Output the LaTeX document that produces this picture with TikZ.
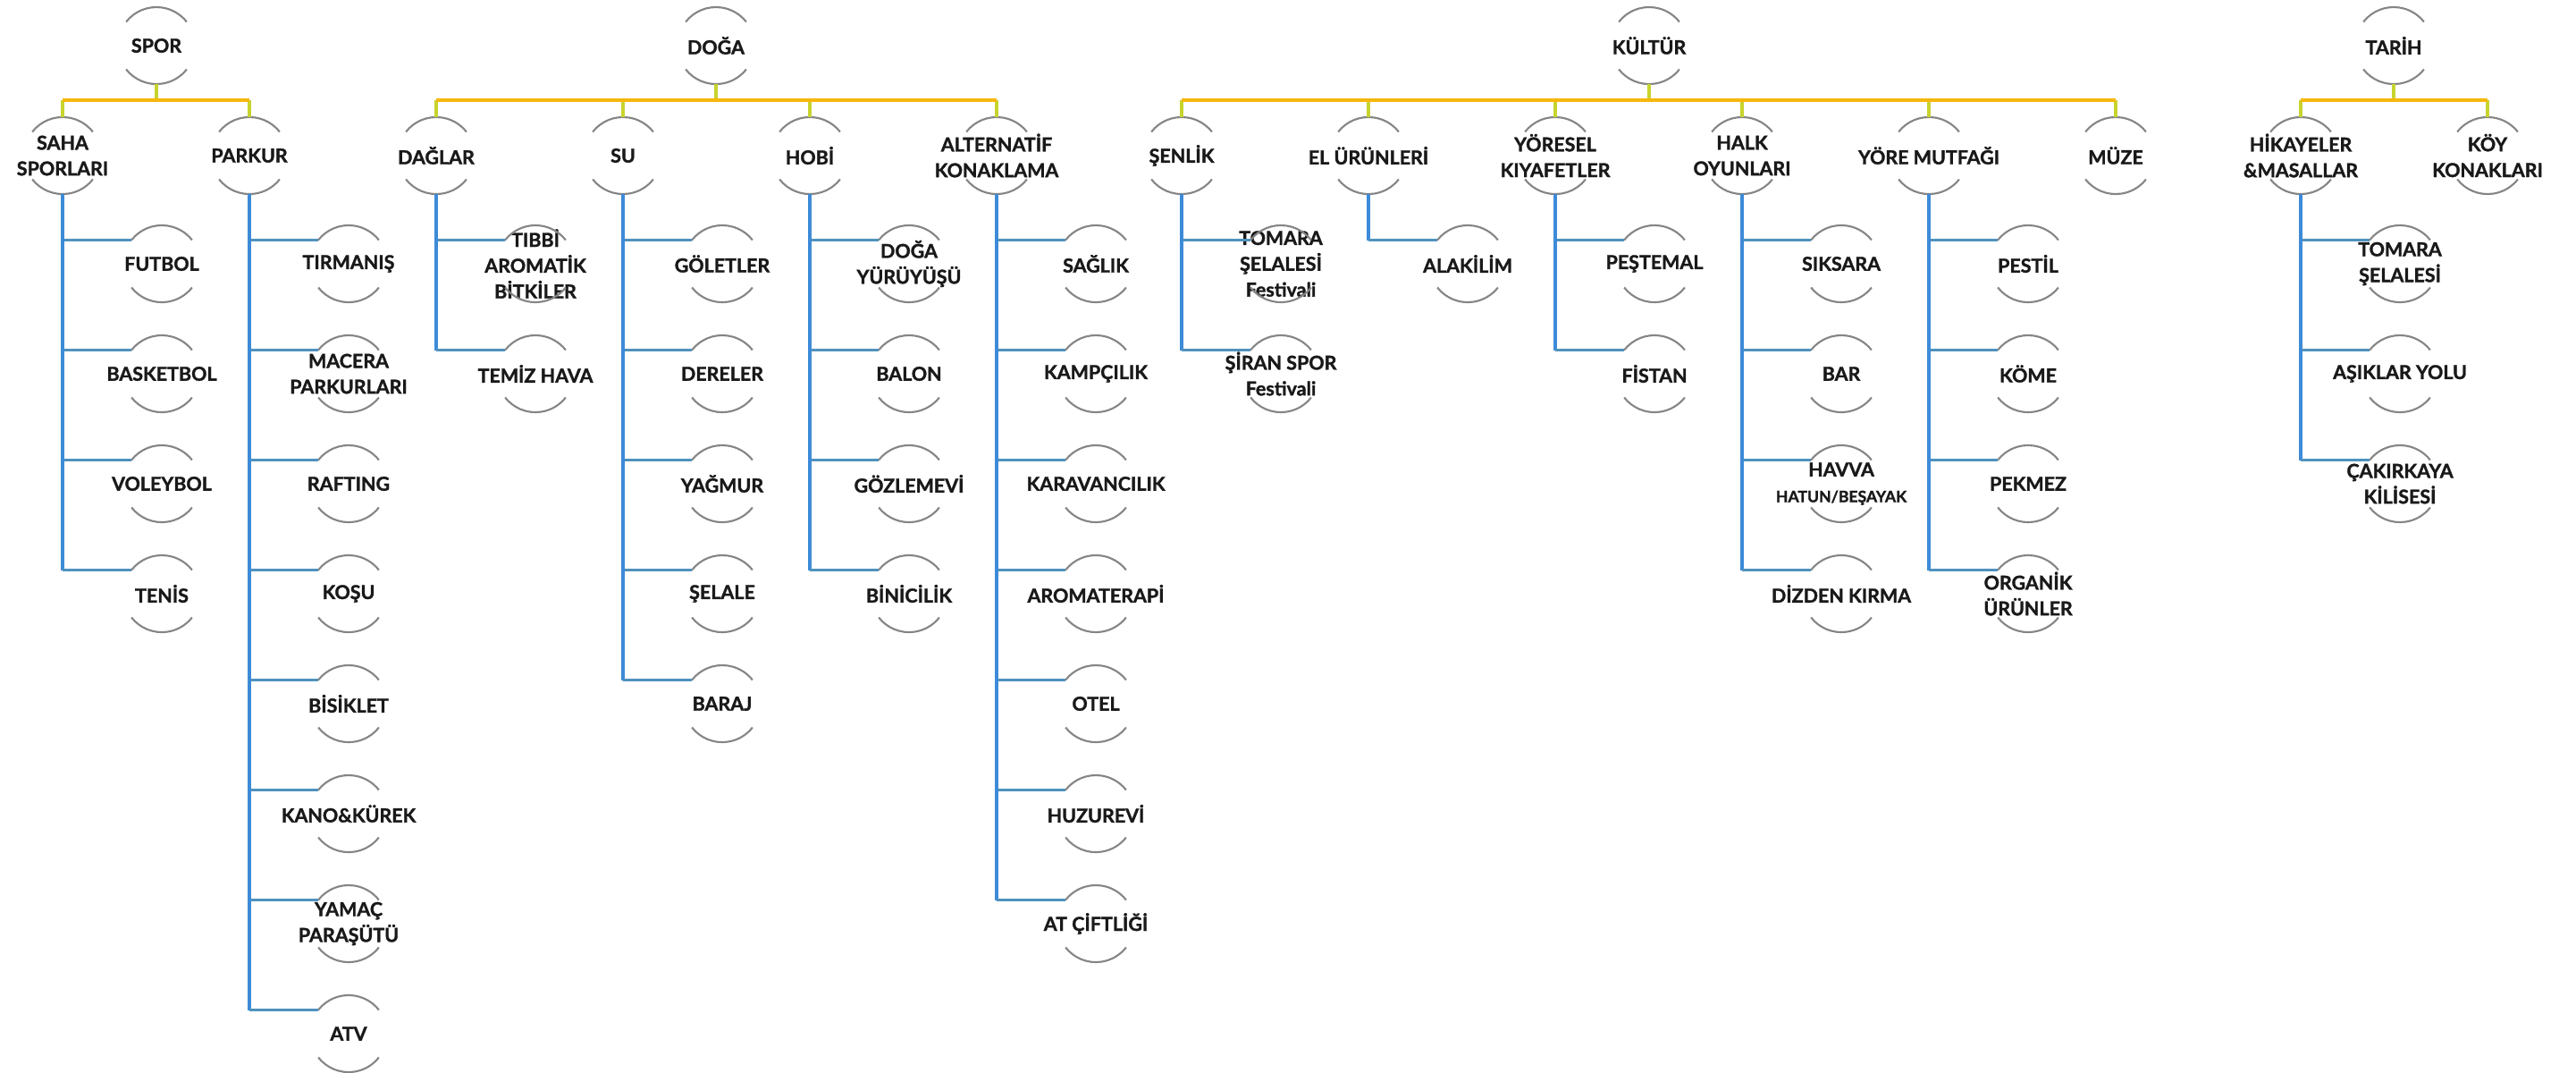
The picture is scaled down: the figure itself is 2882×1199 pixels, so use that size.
\documentclass[tikz,border=0pt]{standalone}
\usepackage{fontspec}
\setmainfont{Lato}[BoldFeatures={FakeBold=1.4}]
\usepackage{tikz}
\usetikzlibrary{calc}

\definecolor{baryellow}{HTML}{F6B70C}
\definecolor{stemyellow}{HTML}{C8D42E}
\definecolor{trunkblue}{HTML}{3D8BD8}
\definecolor{twigblue}{HTML}{5092BE}
\definecolor{rimgray}{HTML}{858585}

\tikzset{
  bub/.style={font=\fontsize{6.1}{8.2}\selectfont\bfseries, align=center, inner sep=0pt, text=black!90},
  rim/.style={draw=rimgray, line width=0.6pt},
  bar/.style={draw=baryellow, line width=1.1pt},
  stem/.style={draw=stemyellow, line width=1.1pt},
  trunk/.style={draw=trunkblue, line width=0.9pt},
  twig/.style={draw=twigblue, line width=0.9pt},
}

% top and bottom arcs round a label
\newcommand{\rims}[1]{\draw[rim] ($(#1)+(142:4.3mm)$) arc[start angle=142, end angle=38, radius=4.3mm] ($(#1)+(218:4.3mm)$) arc[start angle=218, end angle=322, radius=4.3mm];}
% yellow stem from the bar down to a child
\newcommand{\stems}[2]{\draw[stem] ($(#2)+(0,4.3mm)$) -- (#2 |- #1-bar);}
% leaves hanging from a child
\newcommand{\leaves}[3]{%
  \foreach \t [count=\i from 0] in {#3} {
    \node[bub] (#1-\i) at (#2,{-295-123*\i}) {\t};
    \rims{#1-\i}
    \coordinate (#1-\i-in) at ($(#1-\i)+(142:4.3mm)$);
    \draw[trunk] ($(#1)+(0,-4.3mm)$) -- (#1 |- #1-\i-in);
    \draw[twig] (#1 |- #1-\i-in) -- (#1-\i-in);
  }}

\begin{document}
\begin{tikzpicture}[x=0.01cm, y=0.01cm]
\useasboundingbox[fill=white] (0,0) rectangle (2882,-1199);

% SPOR
\node[bub] (spor) at (175,-51) {SPOR};
\coordinate (spor-bar) at (175,-112);
\node[bub] (saha) at (70,-174) {SAHA\\SPORLARI};
\node[bub] (parkur) at (279,-174) {PARKUR};

% DOĞA
\node[bub] (doga) at (801,-51) {DOĞA};
\coordinate (doga-bar) at (801,-112);
\node[bub] (daglar) at (488,-174) {DAĞLAR};
\node[bub] (su) at (697,-174) {SU};
\node[bub] (hobi) at (906,-174) {HOBİ};
\node[bub] (konak) at (1115,-174) {ALTERNATİF\\KONAKLAMA};

% KÜLTÜR
\node[bub] (kultur) at (1845,-51) {KÜLTÜR};
\coordinate (kultur-bar) at (1845,-112);
\node[bub] (senlik) at (1322,-174) {ŞENLİK};
\node[bub] (elurun) at (1531,-174) {EL ÜRÜNLERİ};
\node[bub] (yoresel) at (1740,-174) {YÖRESEL\\KIYAFETLER};
\node[bub] (halk) at (1949,-174) {HALK\\OYUNLARI};
\node[bub] (mutfak) at (2158,-174) {YÖRE MUTFAĞI};
\node[bub] (muze) at (2367,-174) {MÜZE};

% TARİH
\node[bub] (tarih) at (2678,-51) {TARİH};
\coordinate (tarih-bar) at (2678,-112);
\node[bub] (hikaye) at (2574,-174) {HİKAYELER\\\&MASALLAR};
\node[bub] (koy) at (2783,-174) {KÖY\\KONAKLARI};

\foreach \n in {spor,saha,parkur,doga,daglar,su,hobi,konak,kultur,senlik,elurun,yoresel,halk,mutfak,muze,tarih,hikaye,koy}
  {\rims{\n}}

% yellow stems and bars
\foreach \r in {spor,doga,kultur,tarih}
  {\draw[stem] ($(\r)+(0,-4.3mm)$) -- (\r-bar);}
\foreach \c in {saha,parkur} {\stems{spor}{\c}}
\foreach \c in {daglar,su,hobi,konak} {\stems{doga}{\c}}
\foreach \c in {senlik,elurun,yoresel,halk,mutfak,muze} {\stems{kultur}{\c}}
\foreach \c in {hikaye,koy} {\stems{tarih}{\c}}
\draw[bar] (saha |- spor-bar) -- (parkur |- spor-bar);
\draw[bar] (daglar |- doga-bar) -- (konak |- doga-bar);
\draw[bar] (senlik |- kultur-bar) -- (muze |- kultur-bar);
\draw[bar] (hikaye |- tarih-bar) -- (koy |- tarih-bar);

% blue leaves
\leaves{saha}{181}{FUTBOL,BASKETBOL,VOLEYBOL,TENİS}
\leaves{parkur}{390}{TIRMANIŞ,{MACERA\\PARKURLARI},RAFTING,KOŞU,BİSİKLET,KANO\&KÜREK,{YAMAÇ\\PARAŞÜTÜ},ATV}
\leaves{daglar}{599}{{TIBBİ\\AROMATİK\\BİTKİLER},TEMİZ HAVA}
\leaves{su}{808}{GÖLETLER,DERELER,YAĞMUR,ŞELALE,BARAJ}
\leaves{hobi}{1017}{{DOĞA\\YÜRÜYÜŞÜ},BALON,GÖZLEMEVİ,BİNİCİLİK}
\leaves{konak}{1226}{SAĞLIK,KAMPÇILIK,KARAVANCILIK,AROMATERAPİ,OTEL,HUZUREVİ,AT ÇİFTLİĞİ}
\leaves{senlik}{1433}{{TOMARA\\ŞELALESİ\\Festivali},{ŞİRAN SPOR\\Festivali}}
\leaves{elurun}{1642}{ALAKİLİM}
\leaves{yoresel}{1851}{PEŞTEMAL,FİSTAN}
\leaves{halk}{2060}{SIKSARA,BAR,{HAVVA\\{\fontsize{5}{6}\selectfont HATUN/BEŞAYAK}},DİZDEN KIRMA}
\leaves{mutfak}{2269}{PESTİL,KÖME,PEKMEZ,{ORGANİK\\ÜRÜNLER}}
\leaves{hikaye}{2685}{{TOMARA\\ŞELALESİ},AŞIKLAR YOLU,{ÇAKIRKAYA\\KİLİSESİ}}
\end{tikzpicture}
\end{document}
